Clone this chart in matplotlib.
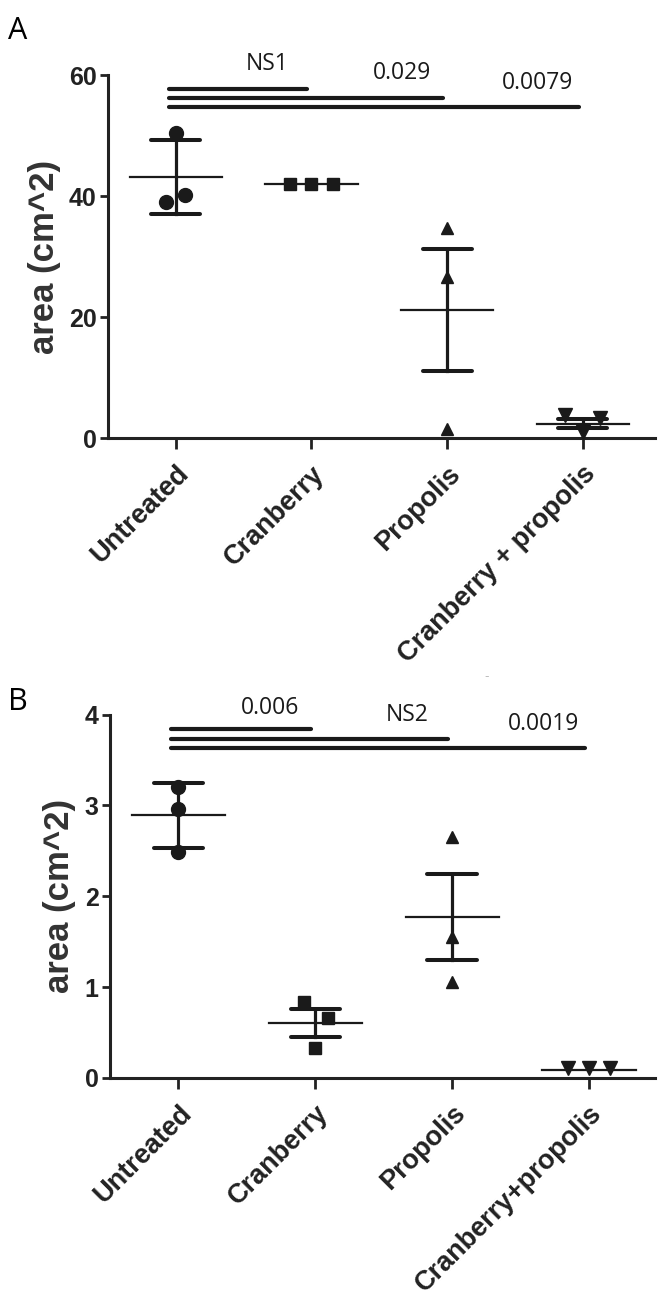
#!/usr/bin/env python3
"""Two stacked scatter-with-mean/SD panels (wound area by treatment)."""

import matplotlib
matplotlib.use("Agg")
import matplotlib.pyplot as plt

GROUPS_A = ["Untreated", "Cranberry", "Propolis", "Cranberry + propolis"]
GROUPS_B = ["Untreated", "Cranberry", "Propolis", "Cranberry+propolis"]

# individual animals
POINTS_A = [[50.4, 39.0, 40.2], [42.1, 42.1, 42.1], [34.7, 26.6, 1.5], [3.8, 1.1, 3.3]]
POINTS_B = [[3.20, 2.96, 2.49], [0.84, 0.33, 0.66], [2.65, 1.55, 1.05], [0.11, 0.11, 0.11]]
MEAN_A = [43.2, 42.1, 21.2, 2.4]
SD_A = [6.05, 0.0, 10.1, 0.75]
MEAN_B = [2.89, 0.60, 1.77, 0.09]
SD_B = [0.36, 0.155, 0.47, 0.0]

# pairwise comparisons vs Untreated
SIG_A = ["NS1", "0.029", "0.0079"]
SIG_B = ["0.006", "NS2", "0.0019"]
SIG_Y_A = [57.7, 56.2, 54.7]
SIG_Y_B = [3.84, 3.73, 3.63]
SIG_TXT_Y_A = [61.8, 60.3, 58.7]
SIG_TXT_Y_B = [4.07, 4.0, 3.9]

YTICKS_A = [0, 20, 40, 60]
YTICKS_B = [0, 1, 2, 3, 4]

MARKERS = ["o", "s", "^", "v"]
JITTER_A = [[0.0, -0.07, 0.07], [-0.16, 0.0, 0.16], [0.0, 0.0, 0.0], [-0.13, 0.0, 0.13]]
JITTER_B = [[0.0, 0.0, 0.0], [-0.08, 0.0, 0.09], [0.0, 0.0, 0.0], [-0.15, 0.0, 0.15]]
MSIZE = [10, 9, 9, 10]

BOLD = "Liberation Sans"
REG = "Open Sans"
LW = 2.3


def draw_panel(ax, groups, points, means, sds, jitter, sig, sig_y, sig_txt_y,
               yticks, xlim):
    for i, (pts, m, sd) in enumerate(zip(points, means, sds)):
        for p, dx in zip(pts, jitter[i]):
            ax.plot(i + dx, p, marker=MARKERS[i], ms=MSIZE[i], color="#1a1a1a",
                    ls="none", clip_on=False, zorder=3)
        ax.plot([i - 0.34, i + 0.34], [m, m], color="#1a1a1a", lw=1.6, zorder=4)
        if sd > 0:
            ax.plot([i, i], [m - sd, m + sd], color="#1a1a1a", lw=LW, zorder=4)
            for y in (m - sd, m + sd):
                ax.plot([i - 0.18, i + 0.18], [y, y], color="#1a1a1a",
                        lw=LW + 0.6, solid_capstyle="round", zorder=4)

    for j, (lab, y, ty) in enumerate(zip(sig, sig_y, sig_txt_y)):
        ax.plot([-0.05, j + 0.97], [y, y], color="#1a1a1a", lw=3.0,
                solid_capstyle="round", clip_on=False)
        ax.text(j + 0.67, ty, lab, ha="center", va="center", fontsize=16.5,
                family=REG, color="#1a1a1a")

    ax.set_xlim(*xlim)
    ax.set_ylim(yticks[0], yticks[-1])
    ax.set_yticks(yticks)
    ax.set_xticks(range(len(groups)))
    ax.set_xticklabels(groups, rotation=45, ha="right", va="top",
                       rotation_mode="anchor", fontsize=19.5, fontweight="bold",
                       family=BOLD, color="#222222")
    for lab in ax.get_yticklabels():
        lab.set_fontsize(18)
        lab.set_fontweight("bold")
        lab.set_family(BOLD)
        lab.set_color("#222222")
    ax.tick_params(axis="x", direction="out", length=8, width=2.0, pad=8,
                   color="#222222")
    ax.tick_params(axis="y", direction="out", length=6, width=2.0, pad=2,
                   color="#222222")
    for s in ("top", "right"):
        ax.spines[s].set_visible(False)
    for s in ("left", "bottom"):
        ax.spines[s].set_linewidth(2.2)
        ax.spines[s].set_color("#222222")
    ax.set_ylabel("area (cm^2)", fontsize=25, fontweight="bold", family=BOLD,
                  color="#333333", labelpad=6)


def main():
    fig = plt.figure(figsize=(6.66, 12.97), dpi=100)
    ax_a = fig.add_axes([0.162, 0.662, 0.821, 0.280])
    ax_b = fig.add_axes([0.165, 0.169, 0.818, 0.280])

    draw_panel(ax_a, GROUPS_A, POINTS_A, MEAN_A, SD_A, JITTER_A, SIG_A,
               SIG_Y_A, SIG_TXT_Y_A, YTICKS_A, (-0.5, 3.53))
    draw_panel(ax_b, GROUPS_B, POINTS_B, MEAN_B, SD_B, JITTER_B, SIG_B,
               SIG_Y_B, SIG_TXT_Y_B, YTICKS_B, (-0.5, 3.48))

    fig.text(0.012, 0.988, "A", fontsize=22, family=REG, va="top", ha="left")
    fig.text(0.012, 0.470, "B", fontsize=22, family=REG, va="top", ha="left")
    # stray scan mark in the original
    fig.text(0.731, 0.476, "-", fontsize=9, color="#bbbbbb", ha="center")

    fig.savefig("out.png", dpi=100)


if __name__ == "__main__":
    main()
